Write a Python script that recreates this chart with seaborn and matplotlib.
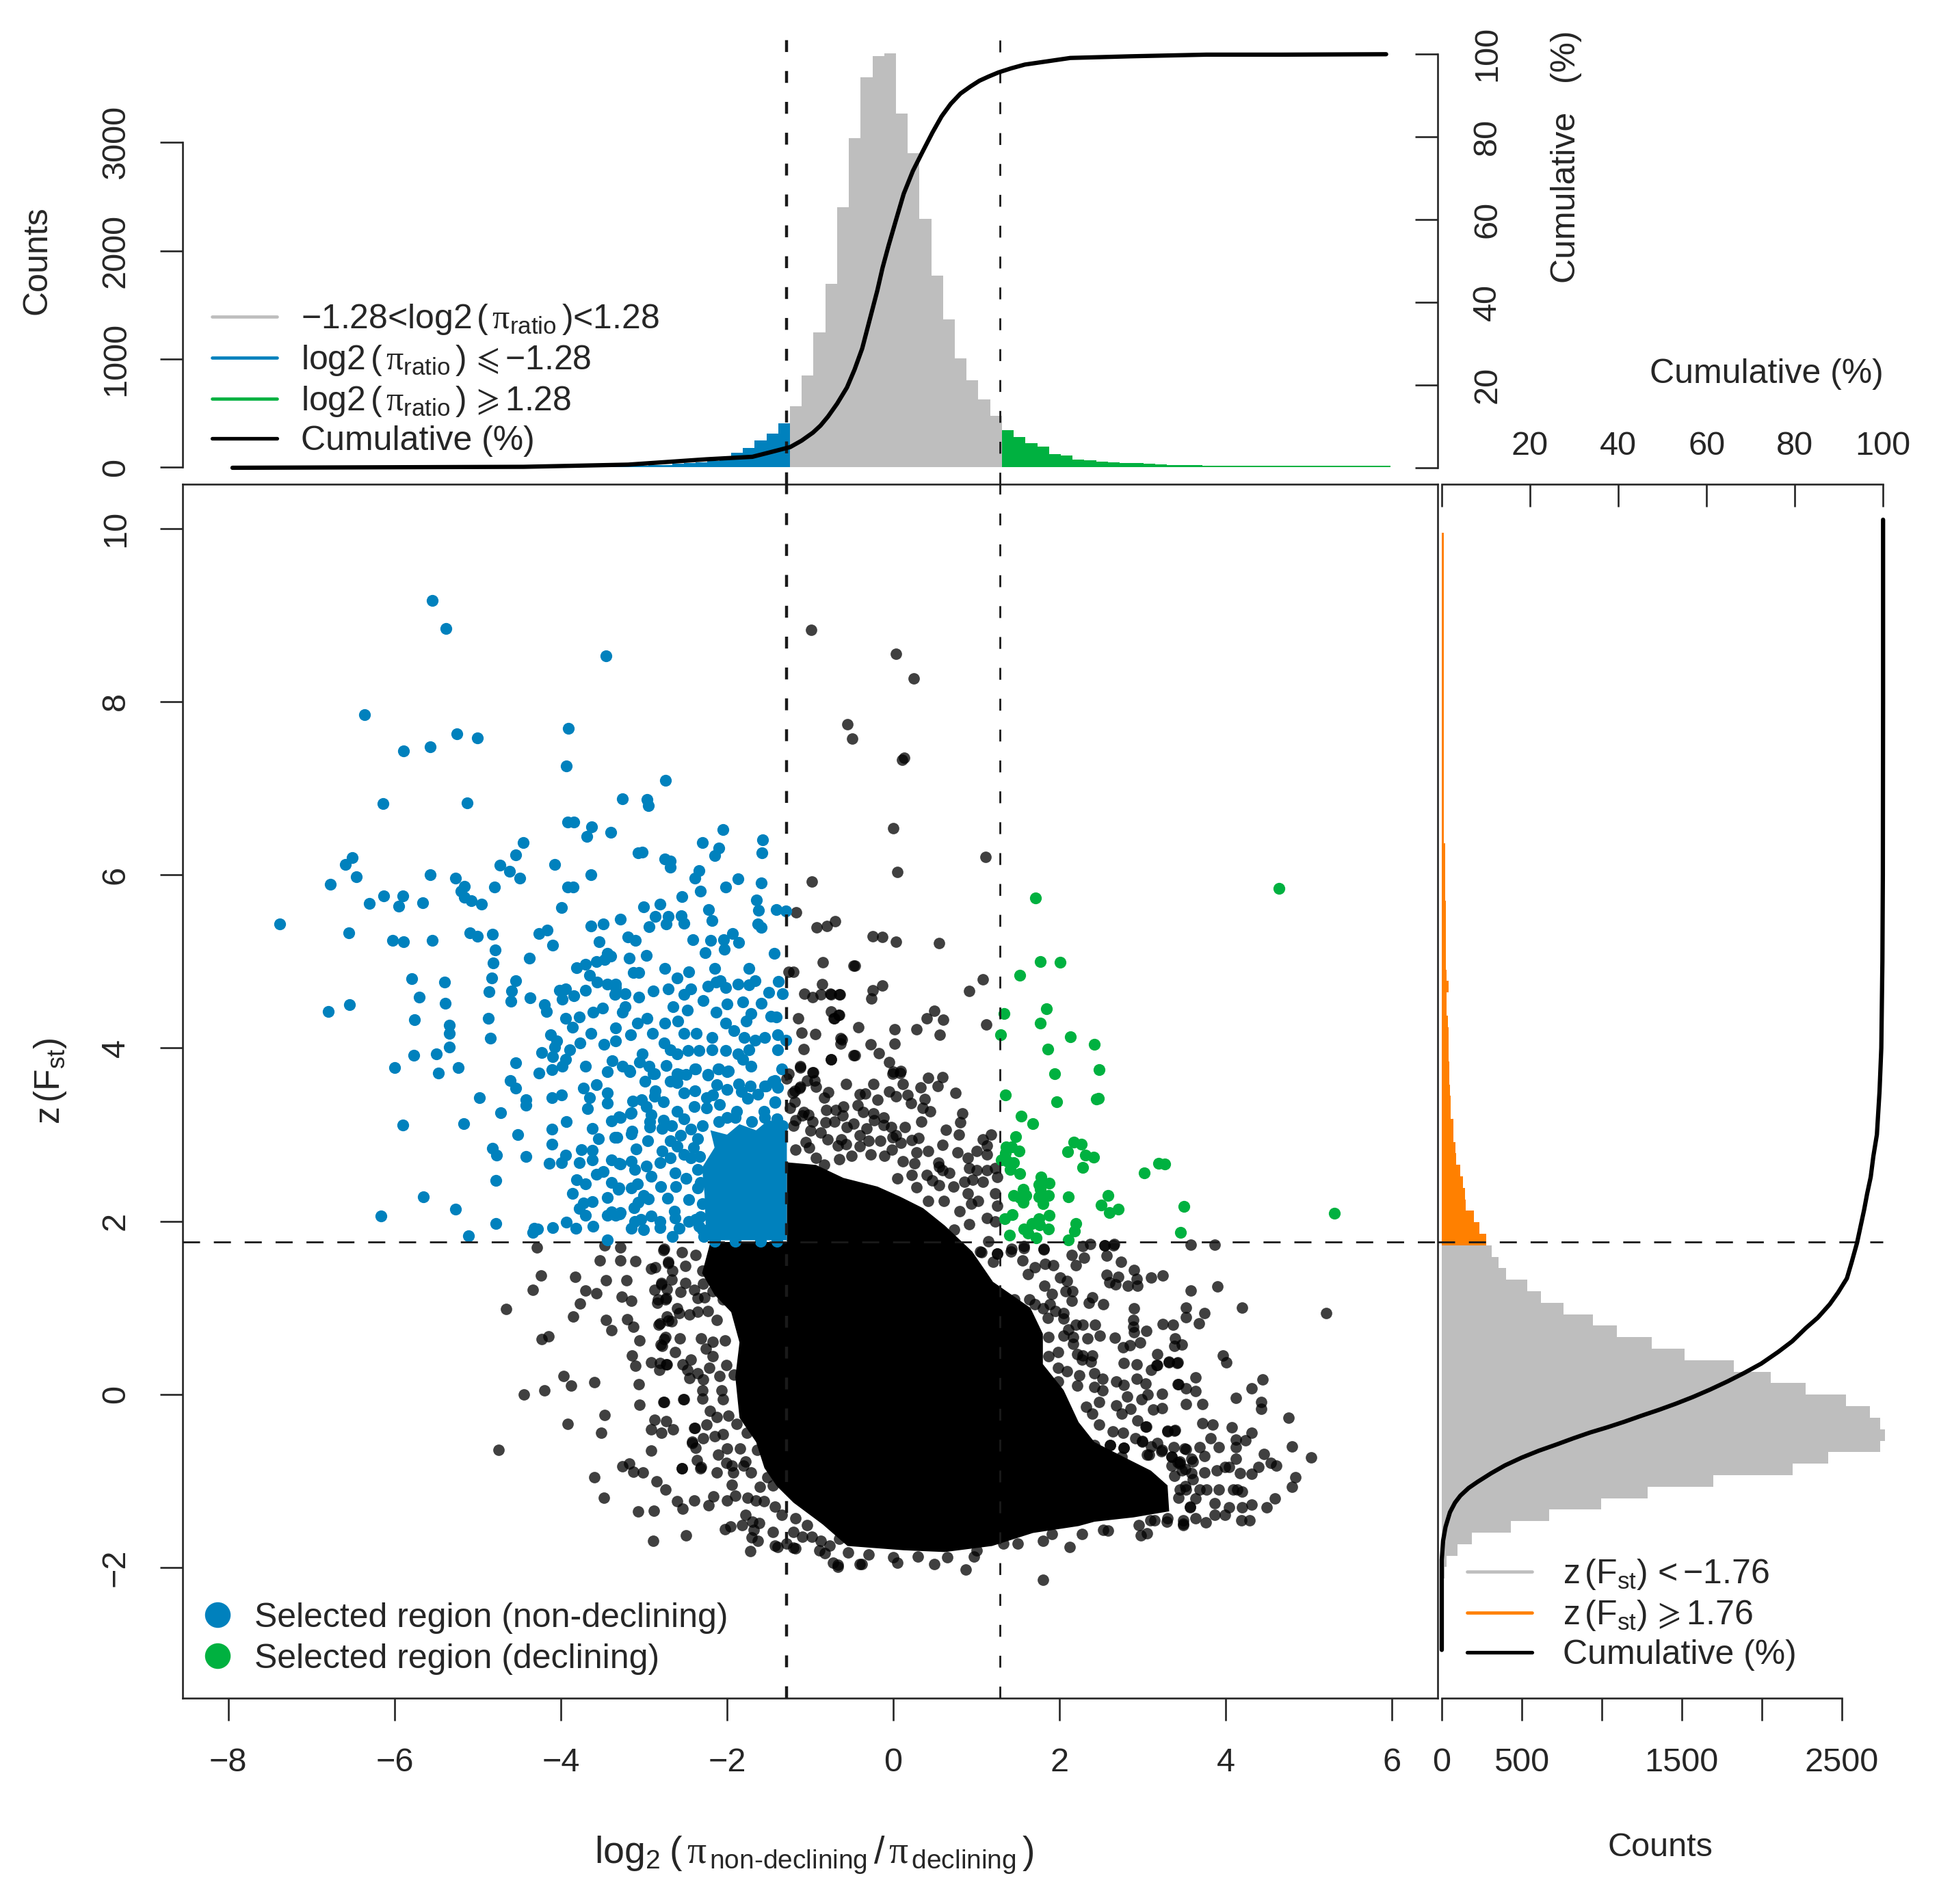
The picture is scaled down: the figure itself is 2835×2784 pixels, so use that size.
import numpy as np
import pandas as pd
import matplotlib
matplotlib.use("Agg")
import matplotlib.pyplot as plt
from matplotlib.lines import Line2D
import seaborn as sns

# top histogram, counts per bin
top_bin_width = 0.1417
top_split = -1.243
top_grey = [563, 846, 1243, 1696, 2405, 3043, 3603, 3797, 3826, 3266, 2903, 2292, 1770, 1368, 1004, 802, 623, 474]
top_green = [340, 280, 220, 190, 122, 110, 72, 62, 50, 45, 39, 36, 30, 24, 21, 18, 16, 15, 14, 13, 12, 12, 11, 11, 10, 10, 10, 10, 10, 10, 10, 10, 10]
# blue runs right to left from the split
top_blue = [406, 310, 246, 180, 130, 93, 58, 43, 35, 29, 22, 18, 15, 13, 12, 11, 10, 10, 10, 10, 10, 9, 9, 8, 8, 7, 7, 6, 6, 6, 5, 5, 5, 5, 5, 5, 5, 5, 5, 5, 5, 5, 5, 5, 5, 5, 5]
top_cum_x = [-7.95, -4.45, -3.19, -2.25, -1.695, -1.467, -1.24, -1.103, -0.966, -0.875, -0.784, -0.675, -0.557, -0.466, -0.374, -0.283, -0.192, -0.129, -0.056, 0.035, 0.126, 0.236, 0.354, 0.472, 0.582, 0.691, 0.809, 0.928, 1.037, 1.146, 1.265, 1.42, 1.583, 1.857, 2.13, 2.494, 2.858, 3.314, 3.769, 4.68, 5.93]
top_cum_y = [0, 0.23, 0.76, 2.05, 2.65, 3.82, 5.0, 6.55, 8.5, 10.2, 12.4, 15.5, 19.4, 23.7, 28.8, 35.8, 42.8, 48.3, 53.7, 60, 66.2, 71.7, 76.4, 81, 84.9, 87.9, 90.4, 92.1, 93.5, 94.5, 95.5, 96.5, 97.4, 98.2, 99, 99.2, 99.4, 99.6, 99.8, 99.8, 99.9]

# right histogram, counts per bin
right_bin_width = 0.1327
right_split = 1.722
# grey runs downwards from the split
right_grey = [312, 357, 400, 535, 618, 762, 944, 1094, 1314, 1519, 1828, 2059, 2277, 2529, 2679, 2743, 2769, 2741, 2416, 2193, 1699, 1286, 997, 670, 434, 190, 100, 30, 15, 10, 6, 5, 3, 2, 2, 1, 1, 1]
# orange runs upwards from the split
right_orange = [277, 234, 201, 151, 144, 133, 115, 91, 84, 73, 73, 54, 54, 51, 48, 46, 44, 44, 44, 38, 32, 30, 44, 30, 26, 24, 24, 26, 26, 24, 23, 22, 20, 21, 23, 11, 11, 11, 11, 11, 11, 11, 11, 11, 11, 11, 11, 11, 11, 11, 11, 11, 11, 11, 11, 11, 11, 11, 11, 11, 11, 11]
right_cum_x = [0, 0, 0, 0.3, 0.85, 1.86, 3.0, 4.2, 6.1, 8.1, 11.2, 14.3, 18.1, 22, 25.9, 29.8, 33.6, 37.5, 41.4, 45.3, 49.1, 53, 56.9, 60.8, 64.7, 68.5, 72.4, 76.3, 79.4, 82.5, 85.2, 87.9, 89.8, 91.8, 92.9, 94.1, 94.9, 95.7, 96.4, 97.2, 97.8, 98.6, 99.2, 99.6, 99.85, 99.95, 100, 100]
right_cum_y = [-2.95, -2.24, -1.91, -1.69, -1.53, -1.36, -1.25, -1.17, -1.08, -1.01, -0.91, -0.82, -0.73, -0.65, -0.58, -0.507, -0.44, -0.38, -0.315, -0.245, -0.18, -0.108, -0.03, 0.056, 0.149, 0.247, 0.356, 0.493, 0.613, 0.766, 0.886, 1.04, 1.176, 1.34, 1.53, 1.75, 1.94, 2.13, 2.32, 2.51, 2.75, 3.0, 3.5, 4.0, 5.0, 6.0, 8.0, 10.1]

# the solid parts of the scatter, too dense to read dot by dot
core_x = [-1.28, -1.28, -2.2, -2.3, -2.15, -1.95, -1.85, -1.9, -1.85, -1.65, -1.55, -1.4, -1.2, -0.85, -0.55, 0.13, 0.62, 1.19, 1.68, 2.23, 2.42, 2.89, 3.32, 3.3, 3.1, 2.83, 2.42, 2.23, 2.05, 1.8, 1.8, 1.65, 1.2, 0.95, 0.62, 0.36, 0.09, -0.19, -0.6, -0.93]
core_y = [2.68, 1.76, 1.76, 1.4, 1.15, 0.95, 0.6, 0.2, -0.27, -0.55, -0.85, -1.06, -1.25, -1.5, -1.75, -1.8, -1.82, -1.75, -1.6, -1.52, -1.47, -1.42, -1.35, -1.05, -0.88, -0.75, -0.55, -0.32, 0.05, 0.35, 0.7, 1.0, 1.3, 1.65, 1.95, 2.15, 2.28, 2.4, 2.5, 2.65]
blue_core_x = [-1.28, -2.25, -2.27, -2.3, -2.15, -2.2, -2.0, -1.85, -1.65, -1.5, -1.28]
blue_core_y = [1.78, 1.78, 2.3, 2.62, 2.85, 3.05, 3.0, 3.12, 3.05, 3.17, 3.1]

blue_points = [
    (-5.55, 9.17), (-5.38, 8.84), (-3.46, 8.53), (-6.36, 7.85), (-5.25, 7.63), (-5.0, 7.58), (-5.57, 7.48), (-5.89, 7.43),
    (-3.91, 7.69), (-3.93, 7.26), (-2.74, 7.09), (-3.26, 6.88), (-2.96, 6.87), (-2.95, 6.8), (-6.14, 6.82), (-5.13, 6.83),
    (-3.92, 6.61), (-3.84, 6.61), (-3.63, 6.55), (-3.69, 6.44), (-3.4, 6.49), (-2.05, 6.52), (-2.3, 6.37), (-1.57, 6.4),
    (-1.58, 6.25), (-2.1, 6.31), (-2.15, 6.22), (-4.45, 6.37), (-4.54, 6.23), (-3.07, 6.25), (-3.02, 6.26), (-2.75, 6.18),
    (-2.68, 6.16), (-2.68, 6.09), (-4.73, 6.11), (-4.62, 6.04), (-4.49, 5.96), (-4.07, 6.12), (-3.64, 6.0), (-6.51, 6.2),
    (-6.59, 6.12), (-6.46, 5.98), (-6.77, 5.89), (-5.57, 6.0), (-5.27, 5.96), (-5.16, 5.87), (-5.2, 5.81), (-5.16, 5.74),
    (-5.08, 5.7), (-4.95, 5.66), (-4.8, 5.86), (-3.92, 5.86), (-3.85, 5.86), (-2.34, 6.05), (-2.39, 5.96), (-2.32, 5.81),
    (-2.54, 5.75), (-1.87, 5.95), (-2.02, 5.86), (-1.59, 5.91), (-1.65, 5.71), (-1.62, 5.59), (-1.41, 5.6), (-1.29, 5.58),
    (-6.13, 5.76), (-5.9, 5.76), (-6.3, 5.67), (-5.95, 5.64), (-5.66, 5.68), (-3.99, 5.62), (-2.81, 5.66), (-3.0, 5.63),
    (-2.86, 5.52), (-2.22, 5.6), (-2.18, 5.47), (-2.55, 5.53), (-2.52, 5.44), (-2.71, 5.52), (-2.73, 5.43), (-2.94, 5.4),
    (-3.28, 5.49), (-3.49, 5.43), (-3.64, 5.41), (-1.63, 5.43), (-1.59, 5.39), (-7.38, 5.43), (-6.55, 5.33), (-5.55, 5.24),
    (-6.02, 5.24), (-5.89, 5.23), (-5.09, 5.33), (-5.0, 5.29), (-4.82, 5.31), (-4.26, 5.32), (-4.16, 5.36), (-4.1, 5.19),
    (-4.79, 5.13), (-4.81, 4.98), (-4.83, 4.81), (-4.86, 4.65), (-4.38, 5.04), (-3.54, 5.23), (-3.19, 5.28), (-3.1, 5.24),
    (-2.41, 5.25), (-2.2, 5.24), (-2.04, 5.25), (-2.03, 5.14), (-1.93, 5.32), (-1.86, 5.22), (-2.26, 5.1), (-1.43, 5.09),
    (-3.44, 5.09), (-3.4, 5.06), (-3.47, 5.02), (-3.57, 5.0), (-3.7, 4.97), (-3.81, 4.93), (-3.18, 5.04), (-2.97, 5.07),
    (-3.65, 4.84), (-3.56, 4.76), (-3.44, 4.74), (-3.34, 4.74), (-3.13, 4.87), (-3.06, 4.87), (-2.75, 4.92), (-2.46, 4.88),
    (-2.15, 4.92), (-1.74, 4.92), (-2.6, 4.81), (-1.66, 4.78), (-1.38, 4.77), (-1.87, 4.74), (-1.74, 4.73), (-2.23, 4.71),
    (-2.13, 4.76), (-2.08, 4.78), (-2.02, 4.7), (-2.44, 4.68), (-2.52, 4.62), (-2.71, 4.68), (-2.89, 4.66), (-3.06, 4.59),
    (-3.23, 4.63), (-3.35, 4.62), (-3.34, 4.7), (-4.02, 4.67), (-3.94, 4.68), (-3.7, 4.67), (-3.84, 4.6), (-3.98, 4.56),
    (-4.37, 4.58), (-4.54, 4.78), (-4.59, 4.66), (-4.6, 4.54), (-5.79, 4.8), (-5.4, 4.76), (-5.7, 4.59), (-5.39, 4.52),
    (-6.54, 4.5), (-6.8, 4.42), (-5.76, 4.33), (-4.87, 4.34), (-5.34, 4.26), (-5.34, 4.17), (-4.85, 4.11), (-5.34, 4.01),
    (-5.77, 3.92), (-5.5, 3.93), (-6.0, 3.77), (-5.47, 3.71), (-5.23, 3.77), (-4.54, 3.83), (-4.23, 3.95), (-4.26, 3.71),
    (-4.11, 3.75), (-4.12, 4.15), (-4.05, 4.08), (-4.07, 4.01), (-4.1, 3.9), (-3.89, 3.98), (-3.94, 3.87), (-3.98, 3.79),
    (-3.7, 3.79), (-3.77, 4.06), (-3.64, 4.17), (-3.48, 4.04), (-3.34, 4.23), (-3.34, 4.08), (-3.16, 4.15), (-2.9, 4.17),
    (-3.08, 4.29), (-2.96, 4.34), (-2.75, 4.29), (-2.59, 4.31), (-2.48, 4.44), (-2.65, 4.48), (-2.29, 4.55), (-2.13, 4.41),
    (-2.0, 4.51), (-1.81, 4.53), (-1.71, 4.4), (-1.59, 4.52), (-1.5, 4.64), (-1.33, 4.63), (-1.47, 4.37), (-1.41, 4.36),
    (-1.77, 4.31), (-3.23, 4.48), (-3.26, 4.41), (-3.5, 4.46), (-3.61, 4.41), (-3.78, 4.36), (-3.94, 4.34), (-3.86, 4.24),
    (-4.2, 4.5), (-4.17, 4.42), (-2.02, 4.29), (-2.18, 4.12), (-2.37, 4.17), (-2.52, 4.17), (-1.92, 4.2), (-1.79, 4.12),
    (-1.66, 4.09), (-1.55, 4.12), (-1.39, 4.15), (-1.29, 4.09), (-1.39, 3.98), (-2.02, 3.97), (-2.18, 3.98), (-2.34, 3.97),
    (-2.47, 3.97), (-2.6, 3.93), (-2.76, 4.06), (-2.68, 3.98), (-3.02, 3.93), (-3.05, 3.84), (-3.38, 3.85), (-3.26, 3.79),
    (-3.17, 3.73), (-3.44, 3.73), (-2.94, 3.79), (-2.73, 3.8), (-2.89, 3.7), (-2.6, 3.7), (-2.39, 3.76),
    (-2.23, 3.69), (-2.1, 3.76), (-2.0, 3.73), (-1.87, 3.93), (-1.74, 3.98), (-1.81, 3.87), (-1.71, 3.79),
    (-1.55, 3.56), (-1.42, 3.62), (-1.34, 3.76), (-1.42, 3.37),
    (-3.73, 3.54), (-3.57, 3.58), (-3.44, 3.48), (-3.65, 3.43), (-3.44, 3.36), (-3.68, 3.3), (-3.99, 3.46), (-4.11, 3.43),
    (-4.61, 3.62), (-4.54, 3.54), (-4.98, 3.43), (-4.42, 3.4), (-4.42, 3.34), (-4.72, 3.25), (-3.93, 3.15),
    (-3.39, 3.16), (-3.62, 3.07), (-3.55, 2.95), (-4.11, 3.06), (-4.11, 2.89), (-4.52, 3.0),
    (-5.17, 3.13), (-5.9, 3.11), (-4.82, 2.84), (-4.77, 2.76), (-4.42, 2.75), (-3.75, 2.83), (-3.94, 2.76), (-3.62, 2.82),
    (-3.62, 2.71), (-3.99, 2.68), (-4.14, 2.67), (-3.78, 2.68), (-3.39, 2.71),
    (-3.49, 2.57), (-3.57, 2.54), (-3.81, 2.48), (-4.78, 2.47), (-3.7, 2.43), (-3.39, 2.45),
    (-5.65, 2.28), (-3.86, 2.32), (-3.62, 2.23), (-3.44, 2.27), (-3.73, 2.21), (-3.78, 2.15),
    (-5.27, 2.14), (-3.39, 2.11), (-3.7, 2.07), (-6.16, 2.06), (-4.78, 1.97), (-5.11, 1.83),
    (-4.34, 1.87), (-4.28, 1.91), (-4.32, 1.92), (-4.1, 1.93), (-3.93, 1.99), (-3.82, 1.92), (-3.61, 1.94), (-3.44, 1.78),
    # crowded block next to the solid patch
    (-3.18, 3.745), (-2.985, 3.613), (-2.876, 3.705), (-2.684, 3.613), (-2.6, 3.6), (-2.574, 3.692), (-2.49, 3.692), (-2.38, 3.758),
    (-2.23, 3.692), (-2.107, 3.758), (-1.984, 3.731), (-2.12, 3.573), (-1.998, 3.521), (-1.86, 3.587), (-1.723, 3.56), (-1.75, 3.415),
    (-1.83, 3.494), (-1.627, 3.468), (-1.531, 3.56), (-1.449, 3.613), (-1.394, 3.547), (-1.422, 3.376), (-1.559, 3.27), (-1.882, 3.27),
    (-2.519, 3.481), (-2.387, 3.508), (-2.862, 3.508), (-2.876, 3.442), (-2.766, 3.376), (-3.136, 3.389), (-3.026, 3.402), (-2.972, 3.323),
    (-3.164, 3.244), (-3.3, 3.205), (-2.917, 3.231), (-2.93, 3.152), (-2.93, 3.086), (-2.766, 3.165), (-2.78, 3.073), (-2.67, 3.1),
    (-2.6, 3.27), (-2.519, 3.178), (-2.395, 3.323), (-2.245, 3.428), (-2.176, 3.455), (-2.094, 3.35), (-2.245, 3.31), (-2.437, 3.06),
    (-3.142, 3.039), (-3.328, 2.968), (-2.958, 2.928), (-3.095, 2.831), (-2.56, 2.994), (-2.684, 2.928), (-2.78, 2.81), (-2.6, 2.862),
    (-2.519, 2.77), (-2.807, 2.678), (-2.684, 2.731), (-2.437, 2.731), (-3.3, 2.665), (-3.15, 2.691), (-3.109, 2.6), (-2.972, 2.639),
    (-2.917, 2.52), (-2.629, 2.56), (-2.492, 2.494), (-2.615, 2.402), (-2.354, 2.388), (-2.801, 2.396), (-3.081, 2.428), (-3.15, 2.388),
    (-3.3, 2.388), (-3.0, 2.296), (-2.944, 2.257), (-2.716, 2.262), (-2.459, 2.252), (-3.068, 2.217), (-3.122, 2.152), (-3.293, 2.086),
    (-2.634, 2.112), (-2.623, 2.033), (-2.917, 2.059), (-3.04, 2.02), (-3.109, 1.994), (-3.15, 1.915), (-3.0, 1.901), (-2.807, 1.994),
    (-2.807, 1.928), (-2.464, 1.994), (-2.382, 2.02), (-2.574, 1.915), (-2.656, 1.823), (-2.34, 1.941),
    (-3.44, 2.07), (-3.34, 2.07), (-3.28, 2.1), (-3.31, 2.37), (-3.28, 2.66), (-3.35, 2.97), (-3.28, 3.2), (-3.15, 3.25), (-3.15, 3.01),
    # ragged rim of the solid patch
    (-1.7, 3.15), (-1.55, 3.2), (-1.9, 3.2), (-1.4, 3.18), (-1.33, 3.1), (-2.1, 3.15), (-2.0, 3.2), (-2.3, 3.1), (-2.35, 2.95),
    (-2.4, 2.85), (-2.33, 2.75), (-2.35, 2.6), (-2.32, 2.45), (-2.3, 2.2), (-2.32, 2.05), (-2.3, 1.9), (-2.28, 1.82), (-2.15, 1.77),
    (-1.9, 1.77), (-1.6, 1.77), (-1.4, 1.77),
]

green_points = [
    (4.64, 5.84), (1.71, 5.73), (1.77, 5.0), (2.01, 4.99), (1.52, 4.84), (1.33, 4.4), (1.84, 4.45), (1.77, 4.29), (1.29, 4.15),
    (2.13, 4.13), (2.42, 4.04), (1.86, 3.99), (2.48, 3.75), (1.94, 3.7), (2.47, 3.42), (2.44, 3.41), (1.97, 3.38), (1.35, 3.46),
    (1.54, 3.21), (1.68, 3.13), (1.47, 2.98), (2.17, 2.91), (2.26, 2.89), (2.1, 2.8), (2.31, 2.76), (2.41, 2.74), (2.28, 2.62),
    (3.02, 2.56), (3.19, 2.67), (3.27, 2.66), (1.36, 2.86), (1.42, 2.86), (1.51, 2.81), (1.35, 2.79), (1.3, 2.71), (1.37, 2.69),
    (1.45, 2.68), (1.41, 2.6), (1.52, 2.55), (1.78, 2.51), (1.88, 2.44), (1.75, 2.42), (1.77, 2.37), (1.87, 2.3), (1.45, 2.3),
    (1.56, 2.37), (1.52, 2.27), (1.6, 2.3), (1.56, 2.22), (1.75, 2.28), (1.8, 2.2), (2.11, 2.28), (2.58, 2.3), (2.5, 2.19),
    (2.6, 2.1), (2.71, 2.14), (3.5, 2.17), (5.31, 2.09), (3.46, 1.87), (1.43, 2.08), (1.34, 2.03), (1.75, 2.03), (1.67, 1.97),
    (1.88, 2.07), (1.76, 1.96), (1.57, 1.91), (1.62, 1.86), (1.72, 1.81), (1.87, 1.91), (2.2, 1.97), (2.18, 1.89), (2.11, 1.78),
    (1.4, 1.84),
]

black_points = [
    (0.03, 8.55), (0.25, 8.27), (0.13, 7.35), (0.11, 7.33), (0.0, 6.54), (0.05, 6.03), (1.11, 6.21),
    (-0.99, 8.83), (-0.55, 7.74), (-0.49, 7.57), (-0.98, 5.92), (-1.17, 5.57), (-0.92, 5.39), (-0.8, 5.41), (-0.7, 5.46),
    (-0.85, 4.99), (-0.48, 4.95), (-1.26, 4.88), (-1.2, 4.88), (-0.86, 4.74), (-1.07, 4.63), (-0.97, 4.59), (-0.87, 4.62),
    (-0.76, 4.63), (-0.64, 4.62), (-0.75, 4.42), (-0.66, 4.38), (-0.71, 4.34), (-1.14, 4.34), (-1.1, 4.18), (-0.94, 4.16),
    (-0.63, 4.11), (-0.63, 4.05), (-1.08, 3.99), (-0.75, 3.87), (-0.48, 3.92), (-1.12, 3.79), (-0.97, 3.72), (-1.26, 3.7),
    (-0.25, 5.29), (-0.13, 5.28), (0.03, 5.23), (0.55, 5.21), (-0.46, 4.95), (1.08, 4.79), (0.91, 4.66), (-0.13, 4.72),
    (-0.25, 4.67), (-0.26, 4.57), (-0.65, 4.62), (-0.75, 4.62), (-0.65, 4.38), (0.49, 4.43), (0.4, 4.34), (0.6, 4.33),
    (1.12, 4.27), (-0.42, 4.24), (-0.72, 4.34), (0.02, 4.22), (0.28, 4.22), (0.56, 4.15), (-0.62, 4.1), (0.02, 4.05),
    (-0.27, 4.04), (-0.17, 3.94), (-0.46, 3.92), (-0.75, 3.87), (-0.05, 3.84), (0.0, 3.73), (0.08, 3.71),
    # above the solid core
    (-0.565, 3.587), (-0.236, 3.587), (-0.927, 3.552), (-1.037, 3.626), (-1.12, 3.552), (-1.188, 3.508), (-0.96, 3.718), (-1.12, 3.77),
    (-0.785, 3.489), (-0.831, 3.429), (-0.406, 3.463), (-0.337, 3.473), (-0.187, 3.402), (-0.05, 3.494), (0.033, 3.442), (0.115, 3.587),
    (-0.008, 3.705), (0.088, 3.731), (0.17, 3.455), (0.211, 3.363), (0.326, 3.542), (0.417, 3.652), (0.532, 3.56), (0.595, 3.666),
    (0.746, 3.481), (0.381, 3.41), (0.354, 3.305), (0.444, 3.27), (0.34, 3.147), (0.137, 3.086), (0.828, 3.244), (0.806, 3.139),
    (0.793, 3.002), (0.636, 3.052), (0.59, 2.881), (0.307, 2.96), (0.219, 2.936), (0.088, 2.902), (-0.022, 3.086), (0.033, 2.994),
    (-0.118, 3.199), (-0.118, 3.113), (-0.242, 3.244), (-0.228, 3.165), (-0.324, 3.068), (-0.365, 3.257), (-0.428, 3.336), (-0.604, 3.323),
    (-0.612, 3.218), (-0.804, 3.284), (-0.694, 3.284), (-1.023, 3.231), (-1.092, 3.218), (-1.188, 3.376), (-1.174, 3.165), (-0.968, 3.152),
    (-0.818, 3.139), (-0.708, 3.152), (-0.475, 3.126), (-0.557, 3.086), (-0.872, 3.02), (-0.79, 2.941), (-0.626, 2.941), (-0.667, 2.876),
    (-0.571, 2.889), (-0.406, 2.994), (-0.406, 2.862), (-0.296, 2.928), (-0.159, 2.928), (-0.008, 2.968), (-1.051, 2.915), (-1.174, 2.823),
    (-1.01, 2.849), (-0.927, 2.731), (-0.831, 2.652), (-0.653, 2.718), (-0.502, 2.757), (-0.269, 2.77), (-0.104, 2.757), (-0.02, 2.823),
    (0.115, 2.691), (0.28, 2.797), (0.417, 2.81), (0.252, 2.665), (0.54, 2.678), (0.554, 2.626), (0.595, 2.586), (0.678, 2.56),
    (0.897, 2.731), (1.007, 2.81), (1.075, 2.941), (1.18, 3.002), (1.13, 2.876), (1.13, 2.77), (0.774, 2.797), (0.911, 2.612),
    (1.007, 2.586), (1.13, 2.586), (1.226, 2.612), (1.254, 2.507), (0.856, 2.454), (0.952, 2.481), (1.075, 2.454), (0.727, 2.402),
    (0.554, 2.415), (0.472, 2.468), (0.403, 2.533), (0.225, 2.533), (0.047, 2.494), (0.897, 2.323), (1.226, 2.323), (1.254, 2.178),
    (1.021, 2.231), (0.938, 2.204), (0.801, 2.112), (0.609, 2.231), (0.417, 2.231), (0.28, 2.389), (1.144, 1.77), (1.13, 2.033),
    (1.226, 1.994), (0.91, 1.967), (0.733, 1.9), (1.062, 1.638), (1.199, 1.533), (1.254, 1.625), (1.42, 1.68),
    (-1.28, 3.65), (-0.95, 3.62), (-1.13, 3.54), (-1.21, 3.48), (-1.24, 3.31), (-1.08, 3.26), (-1.2, 3.1), (-1.0, 3.05),
    # lower right
    (1.81, 1.68), (1.57, 1.71), (2.37, 1.74), (2.54, 1.72), (2.66, 1.74), (3.58, 1.73), (3.87, 1.73), (3.58, 1.2), (3.9, 1.25),
    (4.2, 1.0), (5.21, 0.94), (3.52, 1.0), (3.74, 0.94), (3.52, 0.89), (3.68, 0.82), (3.97, 0.45), (4.01, 0.37), (3.64, 0.2),
    (3.52, 0.07), (3.64, 0.04), (4.44, 0.17), (4.31, 0.07), (4.12, -0.04), (4.43, -0.09), (4.43, -0.17), (4.76, -0.27), (3.52, -0.11),
    (3.72, -0.11), (3.72, -0.33), (3.84, -0.35), (4.07, -0.38), (4.31, -0.44), (4.12, -0.52),
    (4.24, -0.53), (3.82, -0.51), (3.69, -0.61), (3.52, -0.63), (3.37, -0.61),
    (4.8, -0.6), (5.03, -0.73), (4.46, -0.69), (4.54, -0.79), (4.61, -0.82), (4.39, -0.84), (4.31, -0.92),
    (4.12, -0.74), (4.04, -0.84), (3.89, -0.88), (3.74, -0.9), (3.59, -0.91), (3.47, -0.88), (4.84, -0.96), (4.8, -1.07), (4.59, -1.2),
    (4.49, -1.3), (4.2, -1.12), (4.09, -1.1), (3.87, -1.26), (4.31, -1.27), (4.2, -1.3), (4.29, -1.45), (4.19, -1.45), (3.99, -1.39),
    (3.87, -1.39), (3.76, -1.48), (3.57, -1.3), (3.49, -1.49), (3.69, -1.1), (3.52, -1.1),
    (1.8, -2.14), (0.97, -1.87), (0.87, -2.02), (0.49, -1.96), (0.05, -1.94), (-0.38, -1.96), (-0.67, -1.99),
    # band right of the solid core
    (1.048, 1.651), (1.254, 1.625), (1.419, 1.651), (1.57, 1.69), (1.811, 1.677), (2.146, 1.612), (2.297, 1.577), (2.2, 1.493),
    (2.571, 1.604), (2.736, 1.533), (2.277, 1.709), (2.544, 1.717), (2.653, 1.722), (2.9, 1.435), (2.933, 1.335), (2.941, 1.256),
    (2.826, 1.256), (3.098, 1.348), (3.238, 1.375), (2.571, 1.382), (2.708, 1.361), (2.598, 1.296), (2.675, 1.269), (2.9, 0.998),
    (2.886, 0.861), (2.886, 0.782), (2.9, 0.716), (3.046, 0.735), (3.243, 0.816), (3.367, 0.808), (2.667, 0.656), (2.483, 0.682),
    (2.338, 0.65), (2.426, 0.808), (2.53, 1.04), (2.398, 1.124), (2.351, 1.059), (2.009, 1.348), (2.091, 1.309), (1.817, 1.256),
    (1.913, 1.164), (2.159, 1.19), (2.077, 1.19), (2.146, 1.085), (1.83, 1.506), (1.926, 1.493), (1.707, 1.467), (1.624, 1.388),
    (1.556, 1.546), (1.46, 1.098), (1.638, 1.098), (1.707, 1.04), (1.803, 0.993), (1.885, 1.04), (1.954, 0.966), (2.05, 0.94),
    (1.858, 0.887), (2.05, 0.874), (2.2, 0.808), (2.277, 0.808), (2.105, 0.75), (2.05, 0.677), (2.16, 0.664), (2.16, 0.585),
    (1.871, 0.664), (1.981, 0.492), (1.871, 0.44), (2.214, 0.466), (2.283, 0.453), (2.393, 0.453), (2.27, 0.4), (2.379, 0.382),
    (2.777, 0.361), (2.933, 0.348), (2.763, 0.545), (2.845, 0.571), (2.974, 0.598), (3.175, 0.466), (3.312, 0.374), (3.175, 0.335),
    (3.106, 0.282), (3.413, 0.361), (3.38, 0.558), (3.394, 0.65), (3.476, 0.572), (1.981, 0.308), (2.091, 0.269), (2.242, 0.224),
    (2.42, 0.242), (2.516, 0.177), (1.981, 0.15), (2.214, 0.098), (2.42, 0.084), (2.516, 0.045), (2.681, 0.15), (2.777, 0.111),
    (2.928, 0.177), (3.037, 0.124), (2.818, -0.021), (3.057, -0.002), (2.983, -0.06), (3.23, 0.005), (3.128, -0.171), (3.235, -0.158),
    (3.435, 0.119), (2.475, -0.087), (2.681, -0.126), (2.324, -0.139), (2.859, -0.166), (2.749, -0.218), (2.393, -0.218), (2.941, -0.297),
    (3.037, -0.369), (2.475, -0.35), (2.146, -0.324), (2.64, -0.429), (2.763, -0.442), (2.914, -0.508), (2.996, -0.534), (3.298, -0.416),
    (3.394, -0.408), (2.612, -0.587), (2.777, -0.613), (3.106, -0.6), (3.23, -0.64), (3.353, -0.719), (3.449, -0.798), (2.42, -0.587),
    (2.749, -0.719), (3.051, -0.692), (3.42, 0.12), (3.42, 0.37), (3.32, 0.38), (3.17, 0.34),
    # lower edge of the right lobe
    (1.802, -1.693), (2.126, -1.764), (2.269, -1.614), (2.529, -1.561), (2.584, -1.575), (2.955, -1.509), (2.982, -1.627), (3.051, -1.601),
    (3.092, -1.456), (3.297, -1.43), (3.49, -1.456), (3.49, -1.509), (1.322, -1.719), (1.912, -1.614), (3.38, -0.416), (3.297, -0.424),
    (3.503, -0.627), (3.045, -0.371), (3.174, -0.561), (3.229, -0.653), (3.352, -0.719), (3.448, -0.772), (3.517, -0.864), (3.6, -0.772),
    (3.352, -0.824), (3.38, -0.943), (3.517, -1.061), (3.448, -1.101), (3.6, -0.982), (3.572, -1.298), (3.435, -1.193), (2.996, -0.548),
    (2.612, -0.587), (2.776, -0.614), (3.078, -0.693), (3.64, -1.2), (3.77, -1.1), (3.92, -1.1), (4.04, -1.3), (4.14, -1.1), (3.29, -1.47),
    (3.14, -1.45), (3.64, -1.43), (3.59, -0.74), (3.74, -0.71), (3.92, -0.61), (4.12, -0.61), (3.99, -0.84), (4.17, -0.91), (3.42, -0.78),
    # left
    (-4.29, 1.7), (-4.24, 1.37), (-3.83, 1.36), (-4.34, 1.21), (-4.66, 0.99), (-3.77, 1.05), (-3.85, 0.9), (-3.7, 1.2),
    (-3.57, 1.17), (-3.46, 1.32), (-3.53, 1.55), (-3.47, 1.72), (-3.28, 1.7), (-3.28, 1.55), (-3.1, 1.54), (-3.21, 1.32),
    (-3.27, 1.13), (-3.15, 1.08), (-3.46, 0.86), (-3.39, 0.74), (-3.2, 0.87), (-3.13, 0.78), (-4.23, 0.64), (-4.15, 0.67),
    (-3.05, 0.62), (-3.14, 0.45), (-3.1, 0.33), (-3.97, 0.21), (-3.88, 0.1), (-3.6, 0.14), (-4.2, 0.05), (-4.44, -0.0),
    (-3.06, 0.12), (-3.05, -0.12), (-2.76, -0.09), (-2.52, -0.06), (-3.47, -0.24), (-3.92, -0.34), (-3.51, -0.44), (-4.75, -0.64),
    (-2.87, -0.29), (-2.73, -0.31), (-2.91, -0.4), (-2.79, -0.44), (-2.65, -0.4), (-2.39, -0.39), (-2.91, -0.65), (-2.42, -0.56),
    (-3.26, -0.83), (-3.18, -0.8), (-3.13, -0.89), (-3.01, -0.9), (-2.54, -0.85), (-2.31, -0.84), (-3.6, -0.96), (-2.85, -1.0),
    (-2.74, -1.1), (-3.48, -1.19), (-3.07, -1.35), (-2.88, -1.34), (-2.89, -1.69),
    (-2.86, 1.47), (-2.91, 1.45), (-2.76, 1.68), (-2.71, 1.53), (-2.79, 1.29), (-2.87, 1.21), (-2.73, 1.11),
    (-2.84, 1.06), (-2.81, 0.82), (-2.71, 0.85), (-2.76, 0.64), (-2.78, 0.56), (-2.91, 0.37), (-2.73, 0.35),
    # band left of the solid core
    (-2.766, 1.664), (-2.546, 1.638), (-2.711, 1.519), (-2.505, 1.48), (-2.382, 1.612), (-2.3, 1.427), (-2.656, 1.427), (-2.67, 1.322),
    (-2.793, 1.269), (-2.505, 1.288), (-2.286, 1.282), (-2.56, 1.182), (-2.395, 1.209), (-2.176, 1.19), (-2.725, 1.217), (-2.354, 1.111),
    (-2.272, 1.124), (-2.738, 1.098), (-2.834, 1.098), (-2.601, 0.993), (-2.574, 0.94), (-2.45, 0.927), (-2.354, 0.953), (-2.231, 0.966),
    (-2.725, 0.9), (-2.67, 0.848), (-2.82, 0.808), (-2.121, 0.861), (-2.052, 1.098), (-2.738, 0.664), (-2.565, 0.645), (-2.799, 0.572),
    (-2.313, 0.65), (-2.258, 0.532), (-2.628, 0.492), (-2.176, 0.611), (-2.176, 0.44), (-2.025, 0.624), (-2.807, 0.361), (-2.725, 0.348),
    (-2.532, 0.348), (-2.436, 0.4), (-2.478, 0.282), (-2.45, 0.19), (-2.815, 0.282), (-2.354, 0.242), (-2.286, 0.176), (-2.217, 0.308),
    (-2.011, 0.335), (-2.093, 0.216), (-2.299, 0.045), (-2.766, -0.087), (-2.524, -0.06), (-2.299, -0.052), (-2.066, 0.045), (-2.052, -0.06),
    (-1.915, 0.229), (-2.203, -0.192), (-2.121, -0.263), (-1.984, -0.245), (-1.888, -0.337), (-2.395, -0.39), (-2.244, -0.35), (-2.286, -0.508),
    (-2.148, -0.482), (-2.052, -0.456), (-1.764, -0.442), (-2.423, -0.548), (-2.382, -0.619), (-2.107, -0.692), (-1.998, -0.627), (-1.847, -0.627),
    (-1.641, -0.64), (-2.36, -0.758), (-2.321, -0.851), (-2.546, -0.856), (-2.011, -0.793), (-1.943, -0.824), (-2.121, -0.903), (-1.929, -0.903),
    (-1.805, -0.824), (-1.709, -0.903), (-1.778, -0.772), (-1.943, -1.04), (-1.517, -0.956), (-1.605, -1.066), (-1.449, -1.048), (-2.162, -1.174),
    (-1.902, -1.167), (-1.998, -1.224), (-1.751, -1.193), (-1.655, -1.224), (-1.558, -1.232), (-2.395, -1.224), (-2.601, -1.232), (-2.538, -1.317),
    (-2.222, -1.28), (-1.421, -1.298), (-1.339, -1.39), (-1.778, -1.39), (-1.613, -1.488), (-1.696, -1.469), (-1.819, -1.509), (-2.025, -1.556),
    (-1.956, -1.522), (-1.682, -1.561), (-2.491, -1.627), (-1.449, -1.588), (-1.701, -1.654), (-1.627, -1.693), (-1.718, -1.812), (-1.421, -1.746),
    (-1.284, -1.72), (-1.202, -1.772), (-1.092, -1.64), (-1.202, -1.588), (-1.037, -1.509), (-1.174, -1.43), (-0.886, -1.798), (-0.763, -1.746),
    (-0.667, -1.97), (-0.722, -1.943), (-0.543, -1.825), (-0.406, -1.956), (-0.873, -1.693), (-0.653, -1.667), (-0.982, -1.64),
    (-1.39, -1.76), (-1.18, -1.78), (-0.82, -1.83), (-0.3, -1.85), (0.0, -1.88), (0.3, -1.87), (0.65, -1.88), (1.0, -1.8), (1.5, -1.72),
]

blue = "#0081BD"
green = "#00B140"
orange = "#FF8000"
grey = "#BEBEBE"
ink = "#1A1A1A"

PW, PH = 2835, 2784


def box(x0, y0, x1, y1):
    """Axes rectangle from reference pixels."""
    return [x0 / PW, 1 - y1 / PH, (x1 - x0) / PW, (y1 - y0) / PH]


sns.set_theme(style="ticks", rc={"axes.linewidth": 1.9, "xtick.major.width": 1.9, "ytick.major.width": 1.9})
plt.rcParams["font.family"] = ["Liberation Sans", "DejaVu Sans"]
plt.rcParams["mathtext.fontset"] = "custom"
plt.rcParams["mathtext.rm"] = "Liberation Sans"
plt.rcParams["mathtext.it"] = "Liberation Serif"
plt.rcParams["mathtext.default"] = "rm"
plt.rcParams["lines.scale_dashes"] = False
FS = 35
DOT = 145
V_DASH = (12.5, 20)
H_DASH = (18, 14.5)

fig = plt.figure(figsize=(PW / 100, PH / 100), dpi=100, facecolor="white")
ax = fig.add_axes(box(267, 708, 2102, 2483))
ax_top = fig.add_axes(box(267, 0, 2102, 708), sharex=ax)
ax_right = fig.add_axes(box(2102, 708, 2770, 2483), sharey=ax)
ax_top.patch.set_alpha(0)
ax_right.patch.set_alpha(0)

# main scatter
ax.fill(core_x, core_y, color="black", lw=0, zorder=2)
ax.fill(blue_core_x, blue_core_y, color=blue, lw=0, zorder=3)
black_df = pd.DataFrame(black_points, columns=["x", "y"])
blue_df = pd.DataFrame(blue_points, columns=["x", "y"])
green_df = pd.DataFrame(green_points, columns=["x", "y"])
sns.scatterplot(data=black_df, x="x", y="y", color="black", alpha=0.75, s=DOT, linewidth=0, ax=ax, zorder=2)
sns.scatterplot(data=blue_df, x="x", y="y", color=blue, s=DOT + 10, linewidth=0, ax=ax, zorder=3)
sns.scatterplot(data=green_df, x="x", y="y", color=green, s=DOT + 10, linewidth=0, ax=ax, zorder=3)

ax.set_xlim(-8.55, 6.55)
ax.set_ylim(-3.507, 10.51)
ax.axvline(-1.28, color=ink, lw=3.2, dashes=V_DASH, zorder=4)
ax.axvline(1.28, color=ink, lw=2, dashes=V_DASH, zorder=4)
ax.axhline(1.76, color=ink, lw=2, dashes=H_DASH, zorder=4)
ax.set_xticks(range(-8, 7, 2))
ax.set_yticks(range(-2, 11, 2))
ax.set_xlabel("")
ax.set_ylabel("")
ax.tick_params(axis="x", length=24, pad=28, labelsize=FS)
ax.tick_params(axis="y", length=24, pad=30, labelsize=FS, labelrotation=90)
for lab in ax.get_yticklabels():
    lab.set_va("center")

main_handles = [
    Line2D([], [], marker="o", ls="", color=blue, markersize=27, markeredgewidth=0, label="Selected region (non-declining)"),
    Line2D([], [], marker="o", ls="", color=green, markersize=27, markeredgewidth=0, label="Selected region (declining)"),
]
ax.legend(handles=main_handles, loc="lower left", bbox_to_anchor=(0.014, 0.0193), frameon=False, fontsize=FS + 1,
          handlelength=1, handletextpad=0.58, labelspacing=0.28, borderpad=0, borderaxespad=0)

# top histogram
top_centers_grey = top_split + top_bin_width * (np.arange(len(top_grey)) + 0.5)
top_split_r = top_split + top_bin_width * len(top_grey)
top_centers_green = top_split_r + top_bin_width * (np.arange(len(top_green)) + 0.5)
top_centers_blue = top_split - top_bin_width * (np.arange(len(top_blue)) + 0.5)
top_parts = [(top_centers_grey, top_grey, grey), (top_centers_green, top_green, green), (top_centers_blue, top_blue, blue)]
for centers, counts, colour in top_parts:
    edges = np.sort(np.r_[centers - top_bin_width / 2, centers.max() + top_bin_width / 2])
    sns.histplot(x=centers, weights=counts, bins=edges.tolist(), element="step", fill=True, color=colour, alpha=1, linewidth=0, ax=ax_top)
ax_top.set_ylim(-158, 4317)
ax_top.plot([-1.28, -1.28], [-158, 3970], color=ink, lw=3.2, dashes=V_DASH, zorder=4)
ax_top.plot([1.28, 1.28], [-158, 3970], color=ink, lw=2, dashes=V_DASH, zorder=4)
for side in ["top", "right", "bottom"]:
    ax_top.spines[side].set_visible(False)
ax_top.spines["left"].set_bounds(0, 3000)
ax_top.set_yticks([0, 1000, 2000, 3000])
ax_top.tick_params(axis="x", bottom=False, labelbottom=False)
ax_top.tick_params(axis="y", length=24, pad=30, labelsize=FS, labelrotation=90)
for lab in ax_top.get_yticklabels():
    lab.set_va("center")
ax_top.set_xlabel("")
ax_top.set_ylabel("")

top_twin = ax_top.twinx()
sns.lineplot(x=top_cum_x, y=top_cum_y, color="black", lw=4.5, ax=top_twin, zorder=5)
top_twin.set_ylim(-3.97, 113)
for side in ["top", "left", "bottom"]:
    top_twin.spines[side].set_visible(False)
top_twin.spines["right"].set_bounds(0, 100)
top_twin.set_yticks([0, 20, 40, 60, 80, 100], labels=["", "20", "40", "60", "80", "100"])
top_twin.tick_params(axis="y", direction="in", length=24, pad=36, labelsize=FS, labelrotation=90)
for lab in top_twin.get_yticklabels():
    lab.set_va("center")

top_handles = [
    Line2D([], [], color=grey, lw=3.4, label=r"$-$1.28<log2$\,(\,\mathit{\pi}_{ratio}\,)$<1.28"),
    Line2D([], [], color=blue, lw=3.4, label=r"log2$\,(\,\mathit{\pi}_{ratio}\,)\,\leqslant$$-$1.28"),
    Line2D([], [], color=green, lw=3.4, label=r"log2$\,(\,\mathit{\pi}_{ratio}\,)\,\geqslant$1.28"),
    Line2D([], [], color="black", lw=3.8, label="Cumulative (%)"),
]
top_twin.legend(handles=top_handles, loc="lower left", bbox_to_anchor=(43 / 1835, 40 / 708), frameon=False, fontsize=FS + 1,
                handlelength=1.9, handletextpad=0.7, labelspacing=0.2, borderpad=0, borderaxespad=0)

# right histogram
right_centers_grey = right_split - right_bin_width * (np.arange(len(right_grey)) + 0.5)
right_centers_orange = right_split + right_bin_width * (np.arange(len(right_orange)) + 0.5)
for centers, counts, colour in [(right_centers_grey, right_grey, grey), (right_centers_orange, right_orange, orange)]:
    edges = np.sort(np.r_[centers - right_bin_width / 2, centers.max() + right_bin_width / 2])
    sns.histplot(y=centers, weights=counts, bins=edges.tolist(), element="step", fill=True, color=colour, alpha=1, linewidth=0, ax=ax_right)
ax_right.set_xlim(-25.7, 2831)
ax_right.plot([-25.7, 2759], [1.76, 1.76], color=ink, lw=2, dashes=H_DASH, zorder=4)
for side in ["top", "right", "left"]:
    ax_right.spines[side].set_visible(False)
ax_right.spines["bottom"].set_bounds(0, 2500)
ax_right.set_xticks([0, 500, 1000, 1500, 2000, 2500], labels=["0", "500", "", "1500", "", "2500"])
ax_right.tick_params(axis="x", length=24, pad=28, labelsize=FS)
ax_right.tick_params(axis="y", left=False, labelleft=False)
ax_right.set_xlabel("")
ax_right.set_ylabel("")

right_twin = ax_right.twiny()
sns.lineplot(x=right_cum_x, y=right_cum_y, color="black", lw=4.5, sort=False, estimator=None, ax=right_twin, zorder=5)
right_twin.set_xlim(-0.93, 102.6)
for side in ["bottom", "left", "right"]:
    right_twin.spines[side].set_visible(False)
right_twin.spines["top"].set_bounds(0, 100)
right_twin.set_xticks([0, 20, 40, 60, 80, 100], labels=["", "20", "40", "60", "80", "100"])
right_twin.tick_params(axis="x", direction="in", length=24, pad=24, labelsize=FS)

right_handles = [
    Line2D([], [], color=grey, lw=3.4, label=r"z$\,(F_{st})\,<$$-$1.76"),
    Line2D([], [], color=orange, lw=3.4, label=r"z$\,(F_{st})\,\geqslant$1.76"),
    Line2D([], [], color="black", lw=3.8, label="Cumulative (%)"),
]
right_twin.legend(handles=right_handles, loc="lower left", bbox_to_anchor=(43 / 668, 40 / 1775), frameon=False, fontsize=FS + 1,
                  handlelength=1.9, handletextpad=0.9, labelspacing=0.2, borderpad=0, borderaxespad=0)

# axis titles sit outside the panels
fig.text(1190 / PW, 1 - 2713 / PH, r"log$_2\;(\,\mathit{\pi}_{\,non\text{-}declining}\,/\,\mathit{\pi}_{\,declining}\,)$", fontsize=FS + 5, ha="center", va="center")
fig.text(73 / PW, 1 - 1581 / PH, r"z$\,(F_{st})$", fontsize=FS + 2, rotation=90, ha="center", va="center")
fig.text(55 / PW, 1 - 381 / PH, "Counts", fontsize=FS + 1, rotation=90, ha="center", va="center")
fig.text(2290 / PW, 1 - 229 / PH, "Cumulative   (%)", fontsize=FS + 1, rotation=90, ha="center", va="center")
fig.text(2583 / PW, 1 - 547 / PH, "Cumulative (%)", fontsize=FS + 1, ha="center", va="center")
fig.text(2427 / PW, 1 - 2701 / PH, "Counts", fontsize=FS, ha="center", va="center")

fig.savefig("out.png", dpi=100, facecolor="white")
